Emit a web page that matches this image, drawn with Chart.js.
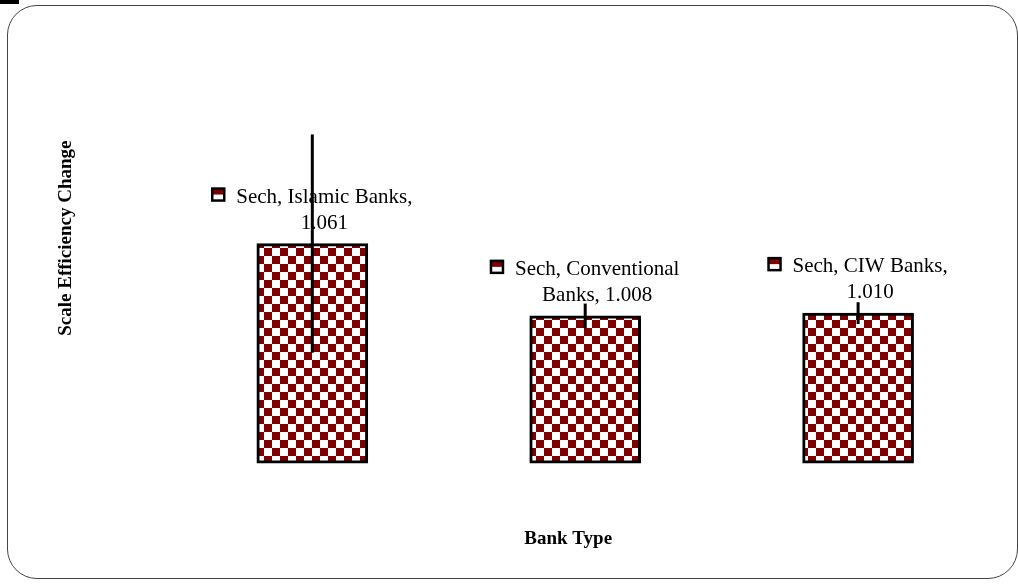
<!DOCTYPE html>
<html>
<head>
<meta charset="utf-8">
<title>Scale Efficiency Change</title>
<script src="https://cdn.jsdelivr.net/npm/chart.js@4/dist/chart.umd.min.js"></script>
<style>
  html, body { margin: 0; padding: 0; background: #fff; overflow: hidden; }
  #wrap { position: relative; width: 1018px; height: 585px; }
  #frame { position: absolute; left: 7px; top: 5px; width: 1009px; height: 572px; border: 1px solid #444; border-radius: 30px; pointer-events: none; }
  #dash { position: absolute; left: 0; top: 0; width: 19px; height: 4px; background: #000; }
</style>
</head>
<body>
<div id="wrap">
  <canvas id="chart1" width="1018" height="585"></canvas>
  <div id="frame"></div>
  <div id="dash"></div>
</div>
<script>
const seriesName = 'Sech';
const categories = ['Islamic Banks', 'Conventional Banks', 'CIW Banks'];
const values = [1.061, 1.008, 1.010];
// error bar half lengths
const errors = [0.080, 0.009, 0.008];
const yMin = 0.9;
const yMax = 1.23;
const yTitle = 'Scale Efficiency Change';
const xTitle = 'Bank Type';

const serif = '"Times New Roman", "Liberation Serif", serif';

function checker() {
  const c = document.createElement('canvas');
  c.width = 16;
  c.height = 16;
  const g = c.getContext('2d');
  g.fillStyle = '#fff';
  g.fillRect(0, 0, 16, 16);
  g.fillStyle = '#800000';
  g.fillRect(0, 0, 8, 8);
  g.fillRect(8, 8, 8, 8);
  return g.createPattern(c, 'repeat');
}

function wrap(ctx, text, maxW) {
  const words = text.split(' ');
  const lines = [];
  let cur = '';
  words.forEach(w => {
    const t = cur ? cur + ' ' + w : w;
    if (cur && ctx.measureText(t).width > maxW) {
      lines.push(cur);
      cur = w;
    } else {
      cur = t;
    }
  });
  if (cur) lines.push(cur);
  return lines;
}

// data labels with legend key, then the error bars
const labelPlugin = {
  id: 'barLabels',
  afterDatasetsDraw(chart) {
    const ctx = chart.ctx;
    const meta = chart.getDatasetMeta(0);
    const y = chart.scales.y;
    ctx.save();
    ctx.font = '21px ' + serif;
    ctx.fillStyle = '#000';
    ctx.textBaseline = 'alphabetic';
    ctx.textAlign = 'center';
    meta.data.forEach((bar, i) => {
      const text = seriesName + ', ' + categories[i] + ', ' + values[i].toFixed(3);
      const lines = wrap(ctx, text, 195);
      const w = Math.max(...lines.map(l => ctx.measureText(l).width));
      const left = bar.x - (w + 24) / 2;
      const cx = left + 24 + w / 2;
      const base = bar.y - 15;
      lines.forEach((l, k) => {
        ctx.fillText(l, cx, base - (lines.length - 1 - k) * 26);
      });
      // legend key
      const ky = base - (lines.length - 1) * 26 - 8;
      ctx.fillStyle = '#fff';
      ctx.fillRect(left, ky - 6, 12, 12);
      ctx.fillStyle = '#800000';
      ctx.fillRect(left, ky - 6, 12, 6);
      ctx.strokeStyle = '#000';
      ctx.lineWidth = 2.5;
      ctx.strokeRect(left, ky - 6, 12, 12);
      ctx.fillStyle = '#000';
    });
    ctx.strokeStyle = '#000';
    ctx.lineWidth = 3;
    meta.data.forEach((bar, i) => {
      ctx.beginPath();
      ctx.moveTo(bar.x, y.getPixelForValue(values[i] + errors[i]));
      ctx.lineTo(bar.x, y.getPixelForValue(values[i] - errors[i]));
      ctx.stroke();
    });
    ctx.restore();
  }
};

new Chart(document.getElementById('chart1'), {
  type: 'bar',
  data: {
    datasets: [{
      label: seriesName,
      data: categories.map((c, i) => ({ x: i + 1, y: values[i] })),
      base: yMin,
      backgroundColor: checker(),
      borderColor: '#000',
      borderWidth: 3,
      borderSkipped: false,
      barThickness: 111,
      clip: 4
    }]
  },
  options: {
    responsive: false,
    animation: false,
    layout: { padding: { top: 13, right: 24, left: 0, bottom: 0 } },
    plugins: {
      legend: { display: false },
      tooltip: { enabled: false }
    },
    scales: {
      x: {
        type: 'linear',
        offset: false,
        min: 0.377,
        max: 3.498,
        grid: { display: false },
        border: { display: false },
        ticks: { display: false },
        title: {
          display: true,
          text: xTitle,
          color: '#000',
          font: { family: serif, size: 19, weight: 'bold' },
          padding: { top: 56, bottom: 35 }
        }
      },
      y: {
        beginAtZero: false,
        min: yMin,
        max: yMax,
        grid: { display: false },
        border: { display: false },
        ticks: { display: false },
        title: {
          display: true,
          text: yTitle,
          color: '#000',
          font: { family: serif, size: 19, weight: 'bold' },
          padding: { top: 55, bottom: 56.5 }
        }
      }
    }
  },
  plugins: [labelPlugin]
});
</script>
</body>
</html>
